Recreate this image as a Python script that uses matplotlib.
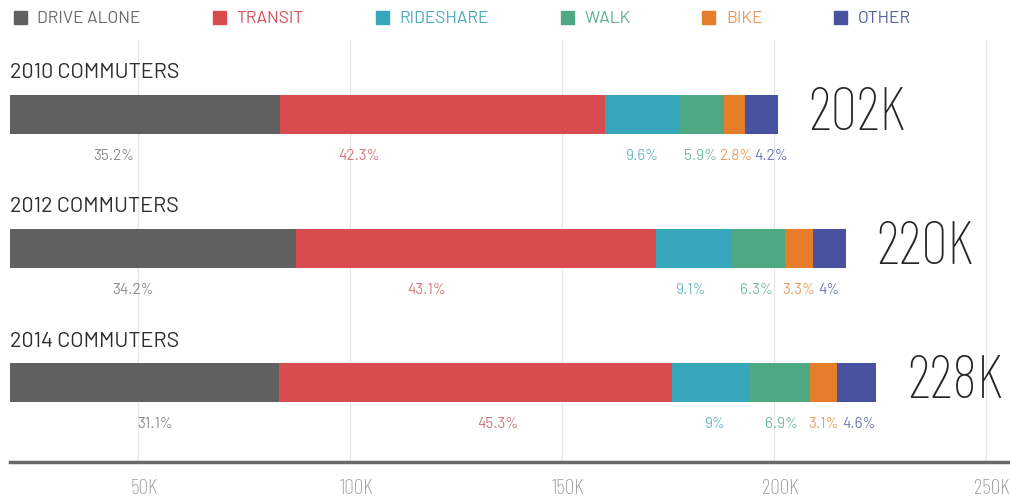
import numpy as np
import matplotlib
matplotlib.use("Agg")
import matplotlib.pyplot as plt
import matplotlib.transforms as mtransforms

# DIN-like faces first, installed fallbacks after
plt.rcParams['font.family'] = ['Barlow', 'Lato', 'DejaVu Sans']
THIN = ['Barlow Condensed', 'Lato', 'DejaVu Sans']

years = ['2010 COMMUTERS', '2012 COMMUTERS', '2014 COMMUTERS']
totals = [202, 220, 228]  # thousands
modes = ['DRIVE ALONE', 'TRANSIT', 'RIDESHARE', 'WALK', 'BIKE', 'OTHER']
shares = np.array([
    [35.2, 42.3, 9.6, 5.9, 2.8, 4.2],
    [34.2, 43.1, 9.1, 6.3, 3.3, 4.0],
    [31.1, 45.3, 9.0, 6.9, 3.1, 4.6],
])
share_labels = [
    ['35.2%', '42.3%', '9.6%', '5.9%', '2.8%', '4.2%'],
    ['34.2%', '43.1%', '9.1%', '6.3%', '3.3%', '4%'],
    ['31.1%', '45.3%', '9%', '6.9%', '3.1%', '4.6%'],
]
tick_vals = [50, 100, 150, 200, 250]
tick_labels = ['50K', '100K', '150K', '200K', '250K']

colors = ['#606060', '#d84c50', '#36a6ba', '#4ea983', '#e67d2b', '#4753a1']
label_colors = ['#8a8a8a', '#d4737a', '#6fb9c9', '#76bb9d', '#eb9c5c', '#6f78b3']
legend_colors = ['#6b6b6b', '#d0525b', '#4aaabd', '#5aaf90', '#e59a60', '#55609f']
# the original infographic doesn't centre every percentage under its segment
nudge_px = [[-31, -84, 0, -1, 1, 10],
            [-20, -49, -4, -2, 0, 0],
            [10, 22, 4, 2, 0, 2]]

W, H = 1010, 499
fig = plt.figure(figsize=(W / 100, H / 100), dpi=100)
ax = fig.add_axes([10 / W, (H - 462) / H, 1000 / W, 422 / H])

# bars
bar_h = 0.29
for i, tot in enumerate(totals):
    widths = shares[i] / 100 * tot
    lefts = np.concatenate([[0], np.cumsum(widths)[:-1]])
    ax.barh(i, widths, left=lefts, height=bar_h, color=colors, zorder=3)
    for j in range(len(modes)):
        ax.annotate(share_labels[i][j], xy=(lefts[j] + widths[j] / 2, i + 0.31),
                    xytext=(nudge_px[i][j] * 0.72, 0), textcoords='offset points',
                    ha='center', va='center', fontsize=11,
                    color=label_colors[j], zorder=4)
    ax.text(0, i - 0.31, years[i], ha='left', va='center', fontsize=15.5,
            color='#2e2e2e', zorder=4)
    ax.annotate(f'{tot}K', xy=(tot, i), xytext=(22, 0),
                textcoords='offset points', ha='left', va='center',
                fontsize=43, fontweight=250, family=THIN, color='#262626')

ax.set_xlim(0, 1000 / 3.8)
ax.set_ylim(2 + 0.59, -0.552)
ax.set_xticks([])
ax.set_yticks([])
for s in ['top', 'right', 'left']:
    ax.spines[s].set_visible(False)
ax.spines['bottom'].set_color('#6a6a6a')
ax.spines['bottom'].set_linewidth(2.5)
ax.spines['bottom'].set_zorder(5)

# axis scale used for grid and tick labels
ax2 = ax.twiny()
ax2.set_xlim(19.8, 19.8 + 1000 / 4.24)
ax2.set_xticks(tick_vals)
ax2.set_xticklabels(tick_labels, fontsize=15.5, color='#999999',
                    fontweight=275, family=THIN)
ax2.xaxis.set_ticks_position('bottom')
ax2.xaxis.set_label_position('bottom')
ax2.tick_params(axis='x', length=0, pad=12)
ax2.grid(axis='x', color='#e6e6e6', linewidth=0.9, zorder=0)
ax2.set_axisbelow(True)
for s in ax2.spines.values():
    s.set_visible(False)
ax.set_zorder(ax2.get_zorder() + 1)
ax.patch.set_visible(False)
off = mtransforms.ScaledTranslation(6 / 100, 0, fig.dpi_scale_trans)
for lbl in ax2.get_xticklabels():
    lbl.set_transform(lbl.get_transform() + off)

# legend
handles = [plt.Rectangle((0, 0), 1, 1, color=c) for c in colors]
leg = fig.legend(handles, modes, loc='upper left', ncol=6,
                 bbox_to_anchor=(14 / W, 1 - 11 / H), frameon=False,
                 fontsize=12.5, handlelength=0.75, handleheight=0.75,
                 handletextpad=0.6, columnspacing=4.15, borderpad=0,
                 borderaxespad=0)
for txt, c in zip(leg.get_texts(), legend_colors):
    txt.set_color(c)

fig.savefig('out.png', dpi=100)
